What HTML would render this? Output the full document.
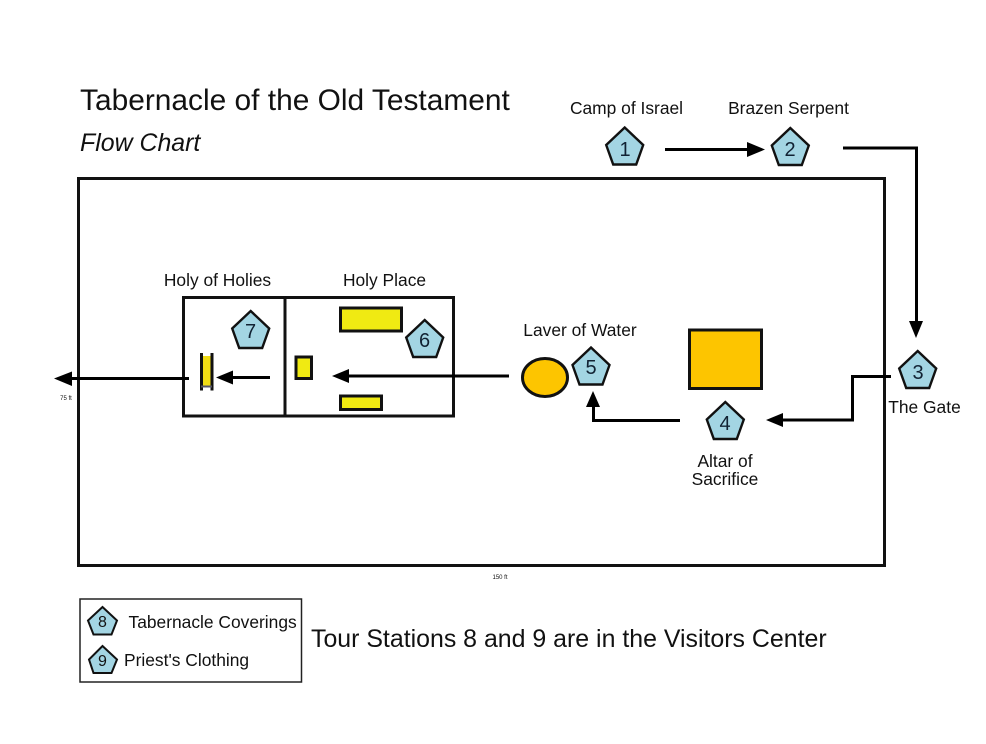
<!DOCTYPE html>
<html>
<head>
<meta charset="utf-8">
<style>
html,body{margin:0;padding:0;background:#fff;}
svg{display:block;}
text{font-family:"Liberation Sans",sans-serif;fill:#111;}
.p{fill:#a3d5e3;stroke:#111;stroke-width:2.4;stroke-linejoin:miter;}
.n{font-size:20px;text-anchor:middle;fill:#123;}
.l{font-size:17.4px;}
.m{text-anchor:middle;}
.k{fill:none;stroke:#000;stroke-width:3;}
.y{fill:#f0ea12;stroke:#111;stroke-width:3;}
.o{fill:#fdc500;stroke:#111;stroke-width:3;}
</style>
</head>
<body>
<svg width="986" height="744" viewBox="0 0 986 744" xmlns="http://www.w3.org/2000/svg">
<defs>
<polygon id="pent" points="0,0 18.5,17.5 11.5,37 -11.5,37 -18.5,17.5"/>
</defs>
<rect width="986" height="744" fill="#fff"/>

<text x="80" y="110" font-size="29.900">Tabernacle of the Old Testament</text>
<text x="80" y="151" font-size="24.900" font-style="italic">Flow Chart</text>

<rect x="78.500" y="178.500" width="806" height="387" fill="none" stroke="#111" stroke-width="3"/>

<rect x="183.500" y="297.500" width="270" height="118.500" fill="none" stroke="#111" stroke-width="3"/>
<line x1="285" y1="297" x2="285" y2="416" stroke="#111" stroke-width="3"/>

<rect x="340.500" y="308" width="61" height="23" class="y"/>
<rect x="340.500" y="396" width="41" height="13.500" class="y"/>
<rect x="296" y="357" width="15.500" height="21.500" class="y"/>
<rect x="201" y="356" width="11" height="31" fill="#f0dc14"/>
<line x1="201.500" y1="353" x2="201.500" y2="390.500" stroke="#111" stroke-width="3"/>
<line x1="212" y1="353" x2="212" y2="390.500" stroke="#111" stroke-width="3"/>
<line x1="201" y1="386.500" x2="212" y2="386.500" stroke="#556" stroke-width="2"/>

<rect x="689.500" y="330" width="72" height="58.500" class="o"/>
<ellipse cx="545" cy="377.500" rx="22.500" ry="19" class="o"/>

<!-- connectors -->
<line x1="665" y1="149.500" x2="748" y2="149.500" class="k"/>
<polygon points="765,149.500 747,142 747,157" fill="#000"/>
<polyline points="843,148 916.500,148 916.500,322" class="k"/>
<polygon points="916,338 909,321 923,321" fill="#000"/>
<polyline points="891,376.500 852.500,376.500 852.500,420 780,420" class="k"/>
<polygon points="766,420 783,413 783,427" fill="#000"/>
<polyline points="680,420.500 593.500,420.500 593.500,405" class="k"/>
<polygon points="593,391 586,407 600,407" fill="#000"/>
<line x1="509" y1="376" x2="346" y2="376" stroke="#000" stroke-width="3"/>
<polygon points="332,376 349,369 349,383" fill="#000"/>
<line x1="270" y1="377.500" x2="230" y2="377.500" stroke="#000" stroke-width="3"/>
<polygon points="216,377.500 233,370.500 233,384.500" fill="#000"/>
<line x1="189" y1="378.500" x2="70" y2="378.500" stroke="#000" stroke-width="3"/>
<polygon points="54,378.500 72,371.500 72,386" fill="#000"/>

<!-- pentagons -->
<use href="#pent" x="624.700" y="127.500" class="p"/>
<use href="#pent" x="790.300" y="128" class="p"/>
<use href="#pent" x="917.700" y="351" class="p"/>
<use href="#pent" x="725.300" y="402" class="p"/>
<use href="#pent" x="591" y="347.500" class="p"/>
<use href="#pent" x="424.700" y="320" class="p"/>
<use href="#pent" x="250.700" y="311" class="p"/>

<text x="625" y="156" class="n">1</text>
<text x="790" y="156" class="n">2</text>
<text x="918" y="379" class="n">3</text>
<text x="725" y="430" class="n">4</text>
<text x="591" y="374" class="n">5</text>
<text x="424.500" y="347" class="n">6</text>
<text x="250.500" y="338" class="n">7</text>

<!-- labels -->
<text x="626.500" y="114" class="l m">Camp of Israel</text>
<text x="788.500" y="114" class="l m">Brazen Serpent</text>
<text x="217.500" y="286" class="l m">Holy of Holies</text>
<text x="384.500" y="286" class="l m">Holy Place</text>
<text x="580" y="336" class="l m">Laver of Water</text>
<text x="924.500" y="413" class="l m">The Gate</text>
<text x="725" y="467" class="l m">Altar of</text>
<text x="725" y="485" class="l m">Sacrifice</text>
<text x="66" y="400" font-size="6" text-anchor="middle">75 ft</text>
<text x="500" y="579" font-size="6" text-anchor="middle">150 ft</text>

<!-- legend -->
<rect x="80" y="599" width="221.500" height="83" fill="none" stroke="#222" stroke-width="1.500"/>
<polygon points="102.500,607 117,620.500 111.500,634.500 93.500,634.500 88,620.500" class="p" style="stroke-width:2"/>
<polygon points="102.500,646 117,659.500 111.500,673 93.500,673 89,659.500" class="p" style="stroke-width:2"/>
<text x="102.500" y="627" font-size="16" text-anchor="middle">8</text>
<text x="102.500" y="666" font-size="16" text-anchor="middle">9</text>
<text x="128.500" y="628" class="l">Tabernacle Coverings</text>
<text x="124" y="666" class="l">Priest's Clothing</text>
<text x="311" y="647" font-size="24.900">Tour Stations 8 and 9 are in the Visitors Center</text>
</svg>
</body>
</html>
